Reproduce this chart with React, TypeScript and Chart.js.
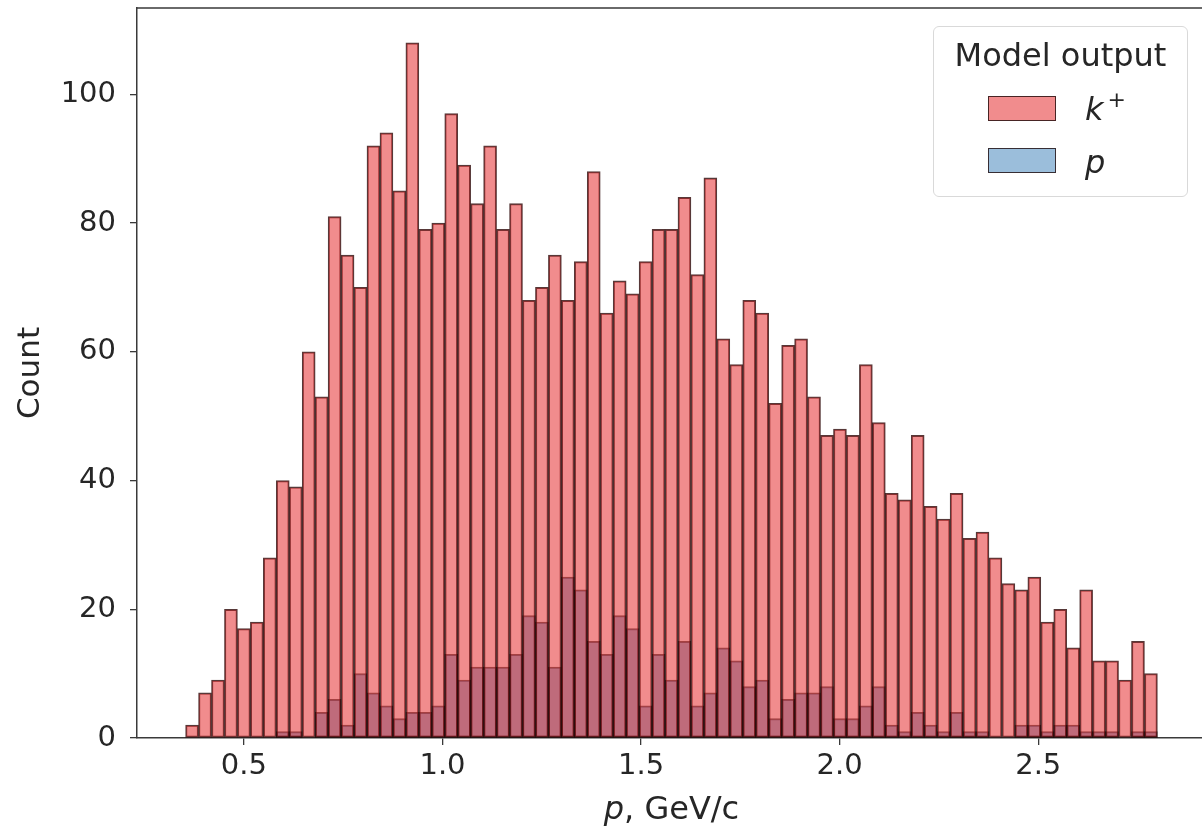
import React, { useEffect, useRef } from "react";
import { Chart, registerables } from "chart.js";

Chart.register(...registerables);

// ---- data (75 shared bins) ----
const binLow = 0.3532;
const binHigh = 2.8;
const kPlusCounts = [
  2, 7, 9, 20, 17, 18, 28, 40, 39, 60,
  53, 81, 75, 70, 92, 94, 85, 108, 79, 80,
  97, 89, 83, 92, 79, 83, 68, 70, 75, 68,
  74, 88, 66, 71, 69, 74, 79, 79, 84, 72,
  87, 62, 58, 68, 66, 52, 61, 62, 53, 47,
  48, 47, 58, 49, 38, 37, 47, 36, 34, 38,
  31, 32, 28, 24, 23, 25, 18, 20, 14, 23,
  12, 12, 9, 15, 10,
];
const pCounts = [
  0, 0, 0, 0, 0, 0, 0, 1, 1, 0,
  4, 6, 2, 10, 7, 5, 3, 4, 4, 5,
  13, 9, 11, 11, 11, 13, 19, 18, 11, 25,
  23, 15, 13, 19, 17, 5, 13, 9, 15, 5,
  7, 14, 12, 8, 9, 3, 6, 7, 7, 8,
  3, 3, 5, 8, 2, 1, 4, 2, 1, 4,
  1, 1, 0, 0, 2, 2, 1, 2, 2, 1,
  1, 1, 0, 1, 1,
];
const xTickValues = [0.5, 1.0, 1.5, 2.0, 2.5];
const yTickValues = [0, 20, 40, 60, 80, 100];
const legendTitle = "Model output";
const xAxisUnit = ", GeV/c";
const yAxisTitle = "Count";

const FONT = "'DejaVu Sans', sans-serif";
const TEXT = "#262626";
const SPINE = "#3a3a3a";

const binWidth = (binHigh - binLow) / kPlusCounts.length;
const binCenters = kPlusCounts.map((_, i) => binLow + (i + 0.5) * binWidth);
const span = binHigh - binLow;
const xMin = binLow - 0.05 * span;
const xMax = binHigh + 0.05 * span;
const yMax = Math.max(...kPlusCounts) * 1.05;

const KP_FILL = "rgba(228,26,28,0.5)";
const P_FILL = "rgba(55,126,184,0.5)";

const spinePlugin = {
  id: "spines",
  afterDraw(chart: any) {
    const { ctx, chartArea } = chart;
    ctx.save();
    ctx.strokeStyle = SPINE;
    ctx.lineWidth = 1.5;
    ctx.beginPath();
    ctx.moveTo(chartArea.left, chartArea.top);
    ctx.lineTo(chartArea.right, chartArea.top);
    ctx.lineTo(chartArea.right, chartArea.bottom);
    ctx.stroke();
    ctx.restore();
  },
};

function HistChart() {
  const ref = useRef<HTMLCanvasElement | null>(null);

  useEffect(() => {
    if (!ref.current) return;
    const common = {
      barPercentage: 1,
      categoryPercentage: 1,
      grouped: false,
      borderWidth: 1.3,
      borderSkipped: false as any,
    };
    const chart = new Chart(ref.current, {
      type: "bar",
      data: {
        datasets: [
          {
            ...common,
            label: "k+",
            data: binCenters.map((x, i) => ({ x, y: kPlusCounts[i] })),
            backgroundColor: KP_FILL,
            borderColor: "rgba(40,0,0,0.78)",
            order: 0,
          },
          {
            ...common,
            label: "p",
            data: binCenters.map((x, i) => ({ x, y: pCounts[i] })),
            backgroundColor: P_FILL,
            borderColor: "rgba(0,0,0,0.6)",
            order: 1,
          },
        ] as any,
      },
      options: {
        responsive: false,
        animation: false,
        layout: { padding: { top: 8, right: 10, left: 0, bottom: 0 } },
        plugins: {
          legend: { display: false },
          tooltip: { enabled: false },
        },
        scales: {
          x: {
            type: "linear",
            min: xMin,
            max: xMax,
            offset: false,
            afterBuildTicks: (s: any) => {
              s.ticks = xTickValues.map((v) => ({ value: v }));
            },
            afterFit: (s: any) => {
              s.height = 96;
              s.paddingLeft = 0;
              s.paddingRight = 0;
            },
            ticks: {
              callback: (v: any) => Number(v).toFixed(1),
              font: { family: FONT, size: 29 },
              color: TEXT,
              padding: 4,
              maxRotation: 0,
              autoSkip: false,
            },
            grid: {
              offset: false,
              drawOnChartArea: false,
              drawTicks: true,
              tickLength: 7,
              color: SPINE,
              lineWidth: 1.3,
            },
            border: { display: true, color: SPINE, width: 1.5 },
          },
          y: {
            type: "linear",
            min: 0,
            max: yMax,
            afterBuildTicks: (s: any) => {
              s.ticks = yTickValues.map((v) => ({ value: v }));
            },
            afterFit: (s: any) => {
              s.width = 137;
              s.paddingTop = 0;
              s.paddingBottom = 0;
            },
            ticks: {
              font: { family: FONT, size: 29 },
              color: TEXT,
              padding: 14,
            },
            grid: {
              drawOnChartArea: false,
              drawTicks: true,
              tickLength: 7,
              color: SPINE,
              lineWidth: 1.3,
            },
            border: { display: true, color: SPINE, width: 1.5 },
            title: {
              display: true,
              text: yAxisTitle,
              font: { family: FONT, size: 31 },
              color: TEXT,
              padding: { top: 12, bottom: 0 },
            },
          },
        } as any,
      },
      plugins: [spinePlugin],
    });
    return () => chart.destroy();
  }, []);

  const swatch = (fill: string, top: number) => (
    <div
      style={{
        position: "absolute",
        left: 988,
        top,
        width: 68,
        height: 25,
        background: fill,
        border: "1.5px solid rgba(30,10,10,0.8)",
        boxSizing: "border-box",
      }}
    />
  );

  return (
    <div
      style={{
        position: "fixed",
        left: 0,
        top: 0,
        width: 1202,
        height: 834,
        overflow: "hidden",
        background: "#fff",
        fontFamily: FONT,
        color: TEXT,
      }}
    >
      <canvas
        ref={ref}
        width={1216}
        height={834}
        style={{ position: "absolute", left: 0, top: 0, width: 1216, height: 834 }}
      />
      {/* legend */}
      <div
        style={{
          position: "absolute",
          left: 933,
          top: 26,
          width: 255,
          height: 171,
          border: "1.5px solid #d9d9d9",
          borderRadius: 6,
          background: "rgba(255,255,255,0.85)",
          boxSizing: "border-box",
        }}
      />
      <div
        style={{
          position: "absolute",
          left: 933,
          width: 255,
          top: 39,
          fontSize: 32,
          lineHeight: "32px",
          textAlign: "center",
          whiteSpace: "nowrap",
        }}
      >
        {legendTitle}
      </div>
      {swatch("rgb(241,140,141)", 96)}
      {swatch("rgb(155,190,219)", 148)}
      <div
        style={{
          position: "absolute",
          left: 1085,
          top: 93,
          fontSize: 32,
          lineHeight: "32px",
          whiteSpace: "nowrap",
        }}
      >
        <i>k</i>
        <span style={{ fontSize: 22, position: "relative", top: -13, marginLeft: 4 }}>+</span>
      </div>
      <div
        style={{
          position: "absolute",
          left: 1085,
          top: 146,
          fontSize: 32,
          lineHeight: "32px",
          whiteSpace: "nowrap",
        }}
      >
        <i>p</i>
      </div>
      {/* x axis title */}
      <div
        style={{
          position: "absolute",
          left: 137,
          width: 1069,
          top: 792,
          fontSize: 32,
          lineHeight: "32px",
          textAlign: "center",
          whiteSpace: "nowrap",
        }}
      >
        <i>p</i>
        {xAxisUnit}
      </div>
    </div>
  );
}

export default function App() {
  return <HistChart />;
}
